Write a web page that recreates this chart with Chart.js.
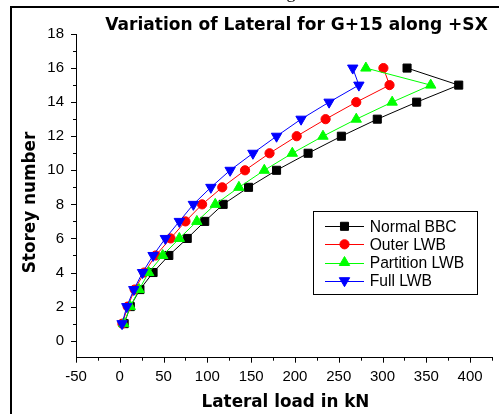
<!DOCTYPE html>
<html>
<head>
<meta charset="utf-8">
<script src="https://cdn.jsdelivr.net/npm/chart.js@4"></script>
<style>
html,body{margin:0;padding:0;background:#fff;}
canvas{display:block;}
</style>
</head>
<body>
<canvas id="c" width="499" height="414"></canvas>
<script>
const storeys = [1,2,3,4,5,6,7,8,9,10,11,12,13,14,15,16];
const normalBBC = [5,12,23,38,56,77,97,118,147,179,215,253,294,339,387,328];
const outerLWB = [3,9,17,28,41,58,75,94,117,143,171,202,235,270,308,301];
const partitionLWB = [4.5,12,22,33,49,68,88,109,136,165,197,232,270,311,355,281];
const fullLWB = [2.6,8,16,26,38,52,68,84,104,126,152,179,207,239,273,266];
const seriesNames = ['Normal BBC','Outer LWB','Partition LWB','Full LWB'];
const xTicks = [-50,0,50,100,150,200,250,300,350,400];
const yTicks = [0,2,4,6,8,10,12,14,16,18];
const titleText = 'Variation of Lateral for G+15 along +SX';
const xTitle = 'Lateral load in kN';
const yTitle = 'Storey number';

const toPts = arr => arr.map((v,i)=>({x:v,y:storeys[i]}));
const styles = [
  {color:'#000000', pointStyle:'rect', radius:5.7, rotation:0},
  {color:'#ff0000', pointStyle:'circle', radius:4.6, rotation:0},
  {color:'#00ff00', pointStyle:'triangle', radius:6, rotation:0},
  {color:'#0000ff', pointStyle:'triangle', radius:6, rotation:180}
];
const allData = [normalBBC, outerLWB, partitionLWB, fullLWB];
const datasets = allData.map((arr,i)=>({
  label: seriesNames[i],
  data: toPts(arr),
  showLine: true,
  borderColor: styles[i].color,
  backgroundColor: styles[i].color,
  borderWidth: 1,
  pointStyle: styles[i].pointStyle,
  pointRadius: styles[i].radius,
  pointRotation: styles[i].rotation,
  pointBorderWidth: 1,
  pointBorderColor: styles[i].color,
  pointBackgroundColor: styles[i].color,
  order: 4 - i,
  clip: false
}));

function fitFont(ctx, text, weight, family, targetW){
  ctx.font = weight + ' 20px ' + family;
  const w = ctx.measureText(text).width;
  return 20 * targetW / w;
}

const decor = {
  id:'decor',
  afterDraw(chart){
    const ctx = chart.ctx;
    const xs = chart.scales.x, ys = chart.scales.y;
    ctx.save();
    // ticks
    ctx.strokeStyle = '#000'; ctx.lineWidth = 1;
    for(let v=-50; v<=425; v+=25){
      const px = Math.round(xs.getPixelForValue(v))+0.5;
      const len = (v%50===0)?5:3;
      ctx.beginPath(); ctx.moveTo(px, ys.bottom); ctx.lineTo(px, ys.bottom+len); ctx.stroke();
    }
    for(let v=0; v<=18; v+=1){
      const py = Math.round(ys.getPixelForValue(v))+0.5;
      const len = (v%2===0)?5:3;
      ctx.beginPath(); ctx.moveTo(xs.left, py); ctx.lineTo(xs.left-len, py); ctx.stroke();
    }
    // frame
    ctx.lineWidth = 2;
    ctx.beginPath(); ctx.moveTo(11, 414); ctx.lineTo(11, 7); ctx.lineTo(499, 7); ctx.stroke();
    // cut text at top
    ctx.fillStyle = '#000';
    ctx.font = '18px "Liberation Serif"';
    ctx.textAlign = 'center'; ctx.textBaseline = 'alphabetic';
    ctx.fillText('g', 291, -2);
    // title
    let fs = fitFont(ctx, titleText, 'bold', '"DejaVu Sans"', 383);
    ctx.font = 'bold ' + fs + 'px "DejaVu Sans"';
    ctx.fillText(titleText, 296.5, 30);
    // x title
    fs = fitFont(ctx, xTitle, 'bold', '"DejaVu Sans"', 168);
    ctx.font = 'bold ' + fs + 'px "DejaVu Sans"';
    ctx.fillText(xTitle, 285.5, 407);
    // y title
    fs = fitFont(ctx, yTitle, 'bold', '"DejaVu Sans"', 141.6);
    ctx.font = 'bold ' + fs + 'px "DejaVu Sans"';
    ctx.save();
    ctx.translate(34.5, 202.5); ctx.rotate(-Math.PI/2);
    ctx.fillText(yTitle, 0, 0);
    ctx.restore();
    // legend
    const lx = 313, ly = 211, lw = 164, lh = 83;
    ctx.lineWidth = 1;
    ctx.fillStyle = '#fff';
    ctx.fillRect(lx, ly, lw, lh);
    ctx.strokeStyle = '#000';
    ctx.strokeRect(lx+0.5, ly+0.5, lw, lh);
    const rows = [226.3, 244.3, 262.5, 280.7];
    fs = fitFont(ctx, seriesNames[0], '', '"Liberation Sans"', 87);
    ctx.font = fs + 'px "Liberation Sans"';
    ctx.textAlign = 'left'; ctx.textBaseline = 'middle';
    seriesNames.forEach((n,i)=>{
      const y = rows[i];
      const c = styles[i].color;
      ctx.strokeStyle = c; ctx.lineWidth = 1;
      ctx.beginPath(); ctx.moveTo(325, Math.round(y)+0.5); ctx.lineTo(364, Math.round(y)+0.5); ctx.stroke();
      ctx.fillStyle = c;
      Chart.helpers.drawPoint(ctx, {pointStyle: styles[i].pointStyle, radius: styles[i].radius, rotation: styles[i].rotation, borderWidth:1}, 344.5, y);
      ctx.fillStyle = '#000';
      ctx.fillText(n, 369.7, y+1);
    });
    ctx.restore();
  }
};

new Chart(document.getElementById('c'), {
  type: 'scatter',
  data: { datasets },
  options: {
    responsive: false,
    animation: false,
    devicePixelRatio: 1,
    layout: { padding: { left: 0, top: 34, right: 3, bottom: 0 } },
    plugins: { legend: { display: false }, tooltip: { enabled: false }, title: { display: false } },
    scales: {
      x: {
        type: 'linear', min: -50, max: 425,
        afterFit(s){ s.height = 56.3; },
        grid: { display: false, drawTicks: true, tickLength: 5 },
        border: { display: true, color: '#000', width: 1 },
        afterBuildTicks(s){ s.ticks = xTicks.map(v=>({value:v})); },
        ticks: { color: '#000', padding: 5, maxRotation: 0, autoSkip: false,
          font: { family: '"Liberation Sans", Arial', size: 15 } }
      },
      y: {
        type: 'linear', min: -1, max: 18,
        afterFit(s){ s.width = 76; },
        grid: { display: false, drawTicks: true, tickLength: 5 },
        border: { display: true, color: '#000', width: 1 },
        afterBuildTicks(s){ s.ticks = yTicks.map(v=>({value:v})); },
        ticks: { color: '#000', padding: 7, autoSkip: false,
          font: { family: '"Liberation Sans", Arial', size: 15 } }
      }
    }
  },
  plugins: [decor]
});
</script>
</body>
</html>
